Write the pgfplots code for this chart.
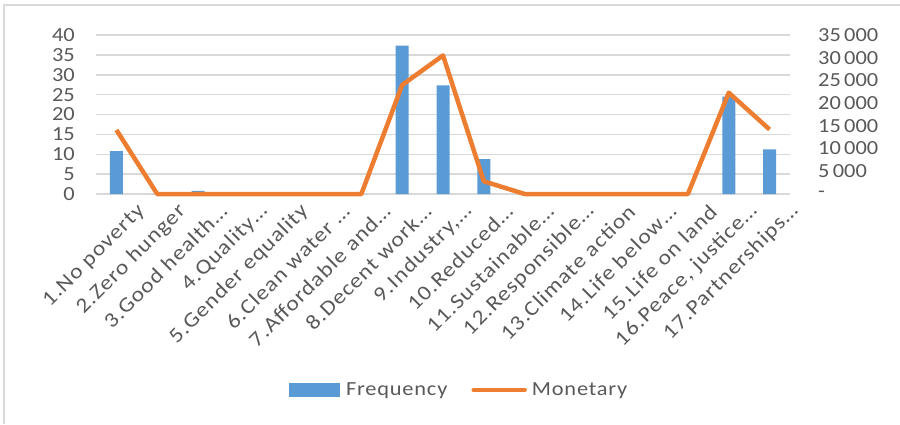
\documentclass[border=0pt]{standalone}
\usepackage{fontspec}
\setmainfont{Carlito}[FakeStretch=1.12]
\usepackage{pgfplots}
\pgfplotsset{compat=1.18}
\definecolor{barblue}{HTML}{5B9BD5}
\definecolor{lineorange}{HTML}{ED7D31}
\definecolor{gridgray}{HTML}{D9D9D9}
\definecolor{framegray}{HTML}{D9D9D9}
\definecolor{textgray}{HTML}{595959}
\newcommand{\tickfont}{\fontsize{20}{20}\selectfont}
\newcommand{\xlabfont}{\fontsize{21}{21}\selectfont\addfontfeatures{LetterSpace=5}}
\newcommand{\legfont}{\fontsize{20}{20}\selectfont\addfontfeatures{LetterSpace=4}}
\begin{document}
\begin{tikzpicture}
\path[use as bounding box] (0,0) rectangle (900pt,424pt);
\draw[framegray, line width=2pt] (4pt,0) -- (4pt,419pt) -- (900pt,419pt);
\begin{axis}[
  at={(96pt,230pt)}, anchor=south west,
  scale only axis, width=694pt, height=159pt,
  xmin=0.5, xmax=17.5, ymin=0, ymax=40,
  ytick={0,5,...,40},
  xtick={1,...,17},
  xticklabels={1.No poverty,2.Zero hunger,3.Good health\dots,4.Quality\dots,5.Gender equality,6.Clean water \dots,7.Affordable and\dots,8.Decent work\dots,9.Industry{,}\dots,10.Reduced\dots,11.Sustainable\dots,12.Responsible\dots,13.Climate action,14.Life below\dots,15.Life on land,16.Peace{,} justice\dots,17.Partnerships\dots},
  x tick label style={rotate=45, anchor=east, inner sep=0pt, font=\xlabfont, text=textgray, yshift=-28pt, xshift=8pt},
  y tick label style={anchor=east, inner sep=0pt, font=\tickfont, text=textgray, xshift=-21pt},
  /pgf/number format/assume math mode=true,
  ymajorgrids, grid style={gridgray, line width=1.5pt},
  axis line style={draw=none},
  major tick length=0pt,
  clip=false,
]
\addplot[ybar, bar width=13pt, fill=barblue, draw=none] coordinates {
  (1,10.8) (2,0) (3,0.8) (4,0) (5,0) (6,0) (7,0) (8,37.3) (9,27.3)
  (10,8.8) (11,0) (12,0) (13,0) (14,0) (15,0) (16,24.5) (17,11.2)
};
\end{axis}
\begin{axis}[
  at={(96pt,230pt)}, anchor=south west,
  scale only axis, width=694pt, height=159pt,
  xmin=0.5, xmax=17.5, ymin=0, ymax=35000,
  axis y line*=right, axis x line=none,
  xtick=\empty,
  scaled y ticks=false,
  ytick={0,5000,...,35000},
  yticklabels={-,5\,000,10\,000,15\,000,20\,000,25\,000,30\,000,35\,000},
  y tick label style={anchor=west, inner sep=0pt, font=\tickfont, text=textgray, xshift=28pt},
  axis line style={draw=none},
  major tick length=0pt,
  clip=false,
  legend columns=2,
  legend style={at={(0.523,-1.233)}, anchor=center, draw=none, fill=none,
    font=\legfont, text=textgray, inner sep=0pt,
    /tikz/every even column/.append style={column sep=22pt}},
  legend cell align=left,
]
\addlegendimage{legend image code/.code={\fill[barblue] (0pt,-6.5pt) rectangle (50pt,6.5pt);}}
\addlegendentry{\hspace{5pt}Frequency}
\addplot[lineorange, line width=4.5pt, line join=round,
  legend image code/.code={\draw[lineorange, line width=4.5pt, line cap=round] (2pt,0pt) -- (53pt,0pt);}]
  coordinates {
  (1,14100) (2,0) (3,0) (4,0) (5,0) (6,0) (7,0) (8,24000) (9,30500)
  (10,2800) (11,0) (12,0) (13,0) (14,0) (15,0) (16,22300) (17,14200)
};
\addlegendentry{\hspace{3pt}Monetary}
\end{axis}
\end{tikzpicture}
\end{document}
